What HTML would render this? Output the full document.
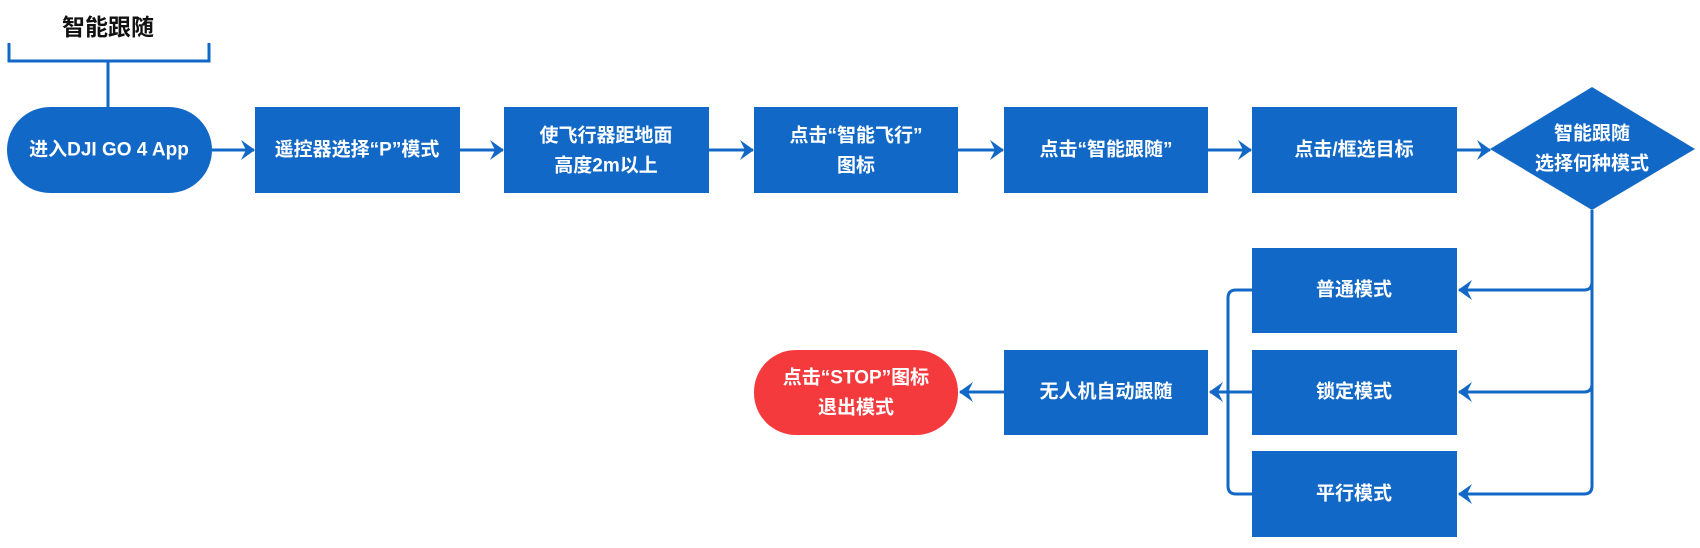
<!DOCTYPE html>
<html><head><meta charset="utf-8"><style>
html,body{margin:0;padding:0;background:#fff;width:1700px;height:548px;overflow:hidden}
svg{display:block}
text{font-family:"Liberation Sans","Noto Sans CJK SC",sans-serif;fill:#fff;font-size:19px;font-weight:bold;text-anchor:middle;dominant-baseline:central}
</style></head><body>
<svg width="1700" height="548" viewBox="0 0 1700 548">
<defs>
<marker id="a" viewBox="0 0 14 20" refX="13" refY="10" markerWidth="14" markerHeight="20" markerUnits="userSpaceOnUse" orient="auto">
<path d="M0,0 L14,10 L0,20 L5,10 Z" fill="#1268C6"/>
</marker>
</defs>
<g stroke="#1268C6" stroke-width="3" fill="none">
<path d="M9,43 V61 H209 V43"/>
<path d="M108,61 V107"/>
<path d="M212,150 H254" marker-end="url(#a)"/>
<path d="M460,150 H503" marker-end="url(#a)"/>
<path d="M709,150 H753" marker-end="url(#a)"/>
<path d="M958,150 H1003" marker-end="url(#a)"/>
<path d="M1208,150 H1251" marker-end="url(#a)"/>
<path d="M1457,150 H1490" marker-end="url(#a)"/>
<path d="M1592,210 V486 Q1592,494 1584,494 H1459" marker-end="url(#a)"/>
<path d="M1592,282 Q1592,290 1584,290 H1459" marker-end="url(#a)"/>
<path d="M1592,384 Q1592,392 1584,392 H1459" marker-end="url(#a)"/>
<path d="M1252,290 H1236 Q1228,290 1228,298 V486 Q1228,494 1236,494 H1252"/>
<path d="M1252,392 H1210" marker-end="url(#a)"/>
<path d="M1004,392 H960" marker-end="url(#a)"/>
</g>
<text x="108" y="27" style="fill:#111;font-size:23px">智能跟随</text>
<rect x="7" y="107" width="205" height="86" rx="43" fill="#1268C6"/>
<text x="109" y="150">进入DJI GO 4 App</text>
<rect x="255" y="107" width="205" height="86" fill="#1268C6"/>
<text x="357" y="150">遥控器选择“P”模式</text>
<rect x="504" y="107" width="205" height="86" fill="#1268C6"/>
<text x="606" y="136">使飞行器距地面</text>
<text x="606" y="166">高度2m以上</text>
<rect x="754" y="107" width="204" height="86" fill="#1268C6"/>
<text x="856" y="136">点击“智能飞行”</text>
<text x="856" y="166">图标</text>
<rect x="1004" y="107" width="204" height="86" fill="#1268C6"/>
<text x="1106" y="150">点击“智能跟随”</text>
<rect x="1252" y="107" width="205" height="86" fill="#1268C6"/>
<text x="1354" y="150">点击/框选目标</text>
<path d="M1490,149 L1592,87 L1695,149 L1592,210 Z" fill="#1268C6"/>
<text x="1592" y="134">智能跟随</text>
<text x="1592" y="164">选择何种模式</text>
<rect x="1252" y="248" width="205" height="85" fill="#1268C6"/>
<text x="1354" y="290">普通模式</text>
<rect x="1252" y="350" width="205" height="85" fill="#1268C6"/>
<text x="1354" y="392">锁定模式</text>
<rect x="1252" y="451" width="205" height="86" fill="#1268C6"/>
<text x="1354" y="494">平行模式</text>
<rect x="1004" y="350" width="204" height="85" fill="#1268C6"/>
<text x="1106" y="392">无人机自动跟随</text>
<rect x="754" y="350" width="204" height="85" rx="42" fill="#F53A3D"/>
<text x="856" y="378">点击“STOP”图标</text>
<text x="856" y="408">退出模式</text>
</svg>
</body></html>
